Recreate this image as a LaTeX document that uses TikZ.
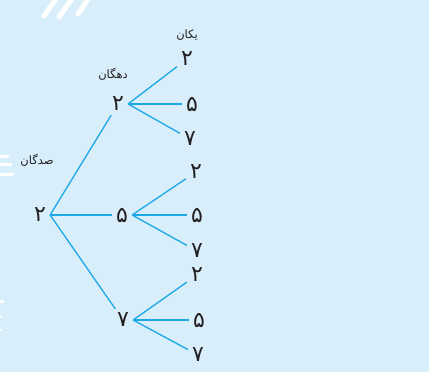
\documentclass[tikz,border=0pt]{standalone}
\usepackage{fontspec}
\newfontfamily\farsi[Script=Arabic]{DejaVu Sans}
\TeXXeTstate=1
\definecolor{bgblue}{RGB}{216,239,251}
\definecolor{twigblue}{RGB}{28,168,230}
\definecolor{ink}{RGB}{35,31,32}
\tikzset{
	digit/.style={font=\farsi\fontsize{22}{22}\selectfont, text=ink, inner sep=4pt},
	place/.style={font=\farsi\fontsize{11.5}{12}\selectfont, text=ink, inner sep=1pt},
	twig/.style={draw=twigblue, line width=1.3pt},
	stripe/.style={white, line width=5pt, line cap=round},
}
\begin{document}
\begin{tikzpicture}[x=1pt,y=-1pt]
		\fill[bgblue] (0,0) rectangle (429,372);
		\useasboundingbox (0,0) rectangle (429,372);
		\begin{scope}
			\clip (0,0) rectangle (429,372);
			\draw[stripe] (44,16) -- (58,-4);
			\draw[stripe] (59,17) -- (74,-4);
			\draw[stripe] (78,14) -- (90,-4);
			\draw[stripe, line width=3pt] (-4,156) -- (8,156);
			\draw[stripe, line width=3pt] (-4,164.5) -- (11,164.5);
			\draw[stripe, line width=3pt] (-4,174) -- (13,174);
			\draw[stripe, line width=3pt] (-4,301) -- (3,301);
			\draw[stripe, line width=2pt] (-4,317) -- (1,317);
			\draw[stripe, line width=2pt] (-4,330) -- (1,330);
		\end{scope}
		\node[place] (lsad) at (37,160) {\farsi\beginR صدگان\endR};
		\node[place] (ldah) at (113,74) {\farsi\beginR دهگان\endR};
		\node[place] (lyek) at (187,35) {\farsi\beginR یکان\endR};
		\node[digit] (s) at (40,215) {۲};
		\node[digit] (d2) at (118,104) {۲};
		\node[digit] (d5) at (122,215) {۵};
		\node[digit] (d7) at (123,320) {۷};
		\node[digit] (u22) at (187,59) {۲};
		\node[digit] (u25) at (192,104) {۵};
		\node[digit] (u27) at (190,139) {۷};
		\node[digit] (u52) at (196,172) {۲};
		\node[digit] (u55) at (197,215) {۵};
		\node[digit] (u57) at (197,251) {۷};
		\node[digit] (u72) at (197,275) {۲};
		\node[digit] (u75) at (199,320) {۵};
		\node[digit] (u77) at (198,355) {۷};
		\foreach \t in {d2,d5,d7}
			\draw[twig] (s.east) -- (\t);
		\foreach \t in {2,5,7}{
			\draw[twig] (d2.east) -- (u2\t);
			\draw[twig] (d5.east) -- (u5\t);
			\draw[twig] (d7.east) -- (u7\t);
		}
	\end{tikzpicture}
\end{document}
